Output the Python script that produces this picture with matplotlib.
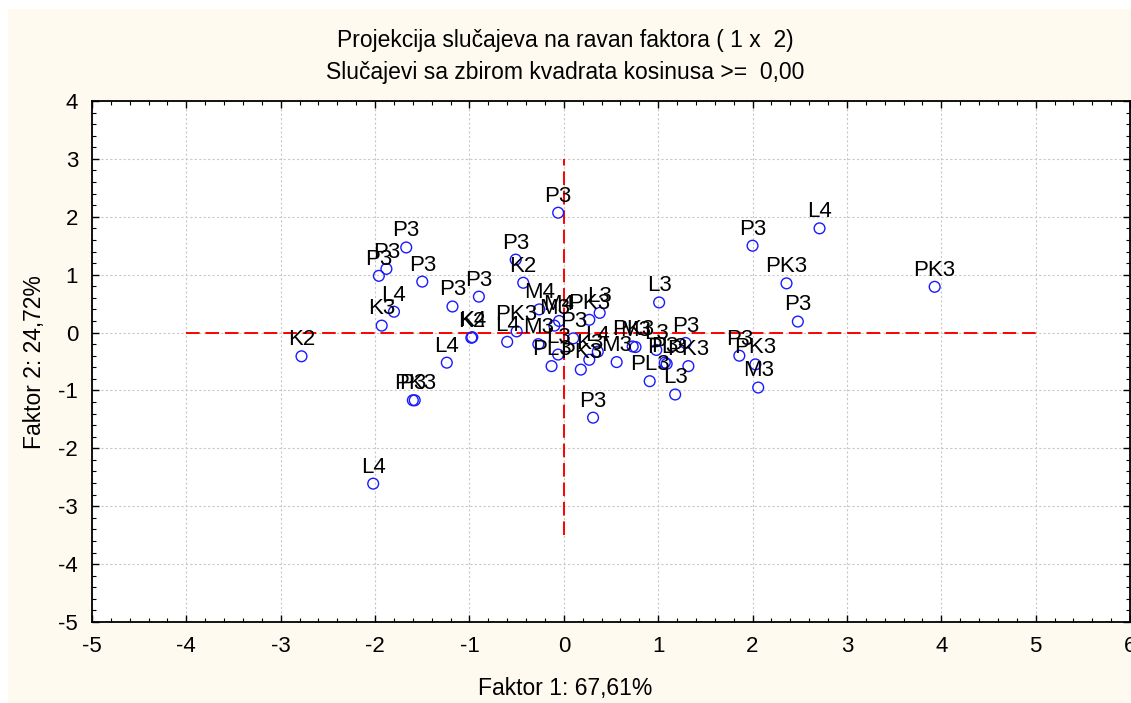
import numpy as np
import matplotlib.pyplot as plt
from matplotlib.patches import Rectangle

plt.rcParams['font.family'] = ['Liberation Sans', 'DejaVu Sans']
plt.rcParams['axes.unicode_minus'] = False

# case labels and factor scores (Faktor 1, Faktor 2)
labels = ['K2', 'L4', 'P3', 'PK3', 'L4', 'P3', 'P3', 'P3', 'P3', 'L4',
          'K3', 'P3', 'P3', 'K2', 'K4', 'P3', 'K2', 'M4', 'PK3', 'L4',
          'M3', 'PL3', 'P3', 'M3', 'M4', 'P3', 'PK3', 'L3', 'L3', 'PK3',
          'K3', 'L4', 'M3', 'P3',
          'L3', 'PK3', 'M3', 'L3', 'PL3', 'P3', 'PL3', 'PK3', 'L3', 'P3',
          'P3', 'PK3', 'M3', 'P3', 'PK3', 'P3', 'L4', 'PK3']
f1 = [-2.78, -2.02, -1.60, -1.58, -1.24, -1.67, -1.88, -1.96, -1.50, -1.80,
      -1.93, -1.18, -0.90, -0.98, -0.97, -0.51, -0.43, -0.26, -0.50, -0.60,
      -0.27, -0.13, -0.06, -0.10, -0.05, 0.10, 0.27, 0.38, -0.06, 0.18,
      0.27, 0.36, 0.56, 0.31,
      1.01, 0.73, 0.76, 0.98, 0.91, 1.07, 1.09, 1.32, 1.18, 1.29,
      1.86, 2.03, 2.06, 2.48, 2.36, 2.00, 2.71, 3.93]
f2 = [-0.41, -2.61, -1.17, -1.17, -0.52, 1.47, 1.10, 0.98, 0.88, 0.36,
      0.12, 0.45, 0.62, -0.09, -0.08, 1.26, 0.86, 0.40, 0.02, -0.16,
      -0.20, -0.58, 2.07, 0.12, 0.20, -0.10, 0.22, 0.34, -0.38, -0.64,
      -0.47, -0.33, -0.51, -1.47,
      0.52, -0.24, -0.25, -0.30, -0.84, -0.52, -0.54, -0.58, -1.07, -0.18,
      -0.40, -0.55, -0.95, 0.19, 0.85, 1.50, 1.80, 0.79]

title1 = 'Projekcija slučajeva na ravan faktora ( 1 x  2)'
title2 = 'Slučajevi sa zbirom kvadrata kosinusa >=  0,00'
xlab = 'Faktor 1: 67,61%'
ylab = 'Faktor 2: 24,72%'

fig = plt.figure(figsize=(11.31, 7.03), dpi=100)
fig.patch.set_facecolor('white')
fig.patches.append(Rectangle((8/1131, 0), 1, 1 - 9/703, transform=fig.transFigure,
                             facecolor='#fefaf0', edgecolor='none', zorder=-10))

ax = fig.add_axes([92/1131, (703-622)/703, (1130-92)/1131, (622-101)/703])
ax.set_facecolor('white')

ax.plot([-4, 5], [0, 0], color='red', ls=(0, (7, 3)), lw=1.4, zorder=2)
ax.plot([0, 0], [-3.5, 3], color='red', ls=(0, (7, 3)), lw=1.4, zorder=2)

ax.scatter(f1, f2, s=60, facecolors='none', edgecolors='#1a1aff', linewidths=1.0, zorder=3)
for lab, x, y in zip(labels, f1, f2):
    ax.annotate(lab, (x, y), xytext=(0, 8), textcoords='offset points',
                ha='center', va='baseline', fontsize=16, zorder=4)

ax.set_xlim(-5, 6)
ax.set_ylim(-5, 4)
ax.set_xticks(np.arange(-5, 7, 1))
ax.set_yticks(np.arange(-5, 5, 1))
ax.set_xticks(np.arange(-5, 6.01, 0.2), minor=True)
ax.set_yticks(np.arange(-5, 4.01, 0.2), minor=True)
ax.tick_params(which='both', direction='in', top=True, right=True, labelsize=16)
ax.tick_params(which='major', length=5, width=1)
ax.tick_params(which='minor', length=3, width=0.8)
ax.tick_params(axis='x', pad=10)
ax.tick_params(axis='y', pad=10)
ax.grid(True, which='major', color='#c8c8c8', ls=(0, (2, 2)), lw=0.8)
for s in ax.spines.values():
    s.set_linewidth(1.3)

fig.text(0.5, 1 - 40/703, title1, ha='center', va='center', fontsize=16.5)
fig.text(0.5, 1 - 72/703, title2, ha='center', va='center', fontsize=16.5)
fig.text(0.5, 1 - 688/703, xlab, ha='center', va='center', fontsize=16.5)
fig.text(35/1131, 1 - 362/703, ylab, ha='center', va='center', rotation=90, fontsize=16.5)

fig.savefig('out.png', dpi=100, facecolor=fig.get_facecolor())
